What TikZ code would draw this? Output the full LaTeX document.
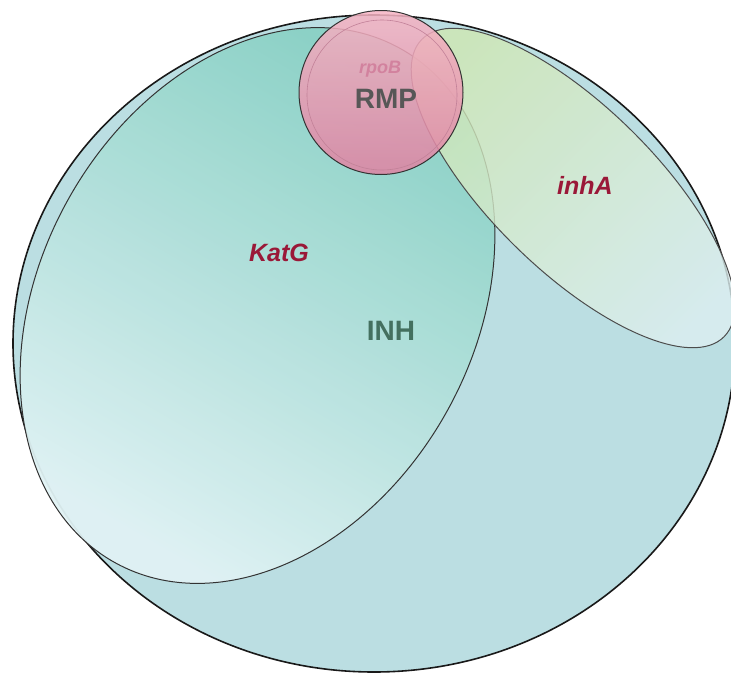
\documentclass[tikz,border=0pt]{standalone}
\usepackage{fontspec}
\setmainfont{Liberation Sans}
\begin{document}
\begin{tikzpicture}[x=1pt,y=-1pt,
  outline/.style={draw=black!80,line width=1pt},
  genelabel/.style={font=\bfseries\itshape\fontsize{25}{25}\selectfont},
  druglabel/.style={font=\bfseries\fontsize{28}{28}\selectfont}]
\definecolor{inhbg}{HTML}{BBDEE2}
\definecolor{katdark}{HTML}{8AD1C5}
\definecolor{katlight}{HTML}{E0F2F4}
\definecolor{inhagreen}{HTML}{D0E7B2}
\definecolor{inhalight}{HTML}{DDEFF1}
\definecolor{pinktop}{HTML}{F6B4C4}
\definecolor{pinkbot}{HTML}{DF82A2}
\definecolor{genered}{HTML}{9A1838}
\definecolor{rpobpink}{HTML}{D2829E}
\definecolor{inhtext}{HTML}{44705F}
\useasboundingbox (0,0) rectangle (731,673);
\clip (0,0) rectangle (731,673);
% INH set
\fill[inhbg] (374,343.5) ellipse [x radius=361pt, y radius=328.5pt];
\draw[draw=black!90,line width=1.6pt] (374,343.5) ellipse [x radius=361pt, y radius=328.5pt];
% KatG
\shade[shading=axis,top color=katdark,bottom color=katlight,shading angle=-30,fill opacity=0.95]
  (257.5,305.5) ellipse [x radius=294pt, y radius=217pt, rotate=61];
\draw[outline] (257.5,305.5) ellipse [x radius=294pt, y radius=217pt, rotate=61];
% inhA
\shade[shading=axis,top color=inhagreen,bottom color=inhalight,shading angle=45,fill opacity=0.8]
  (573,188) ellipse [x radius=212pt, y radius=82pt, rotate=-44.5];
\draw[outline,draw=black!70] (573,188) ellipse [x radius=212pt, y radius=82pt, rotate=-44.5];
% RMP / rpoB
\shade[shading=axis,top color=pinktop,bottom color=pinkbot,fill opacity=0.85]
  (381,92.5) circle [radius=82pt];
\draw[outline] (381,92.5) circle [radius=82pt];
\draw[draw=pinkbot!70!gray,line width=0.6pt] (382,95) circle [radius=75pt];
% labels
\node[genelabel,text=genered] (katg) at (279,253) {KatG};
\node[genelabel,text=genered] (inha) at (585,185) {inhA};
\node[text=rpobpink,font=\bfseries\itshape\fontsize{18}{18}\selectfont] (rpob) at (380,69) {rpoB};
\node[druglabel,text=black!66] (rmp) at (386,99) {RMP};
\node[druglabel,text=inhtext] (inh) at (391,331) {INH};
\end{tikzpicture}
\end{document}
